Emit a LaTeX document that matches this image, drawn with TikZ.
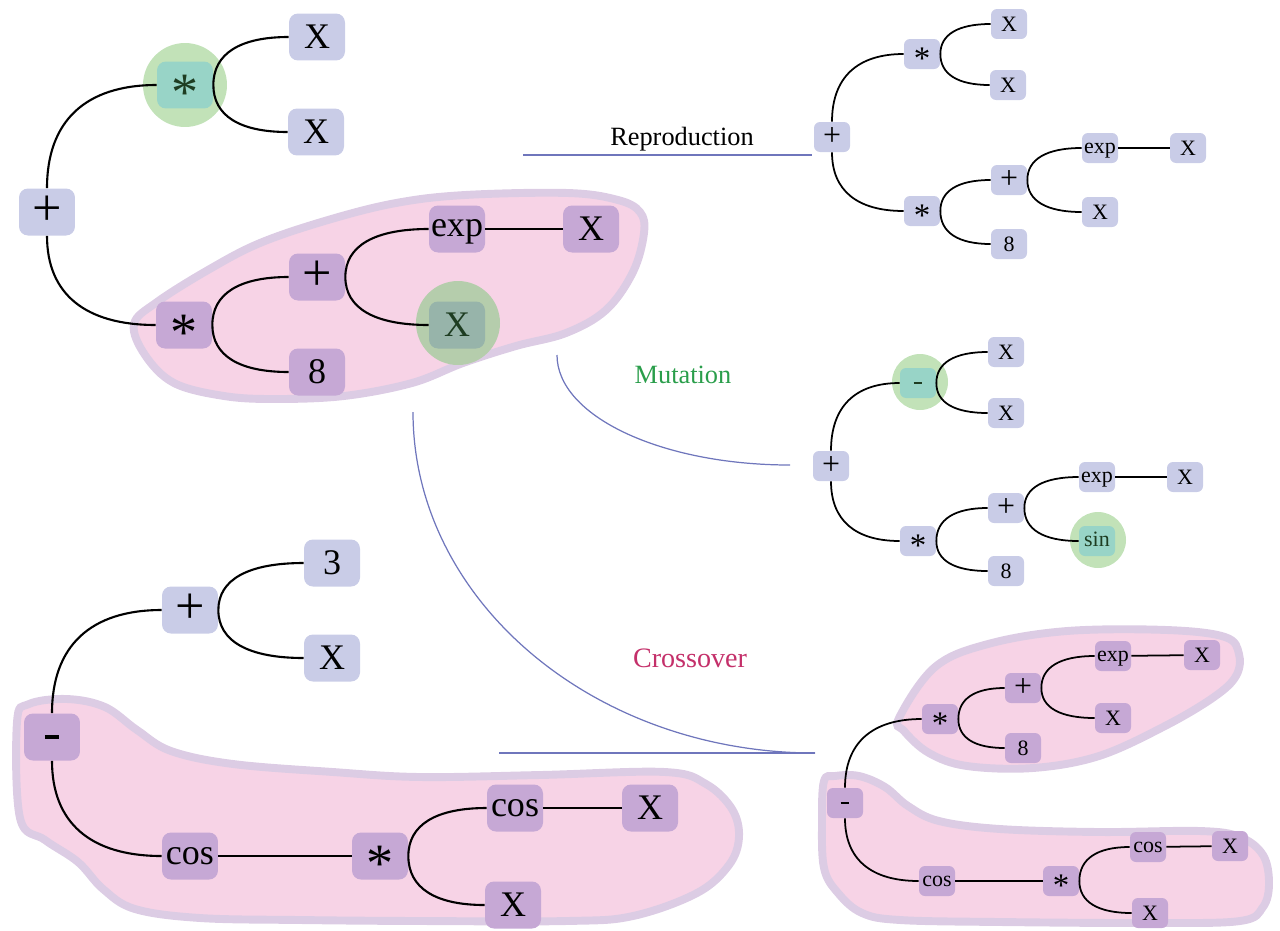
\documentclass[tikz,border=0pt]{standalone}
\usepackage{fontspec}
\usepackage{graphicx}
\setmainfont{Liberation Serif}
\usetikzlibrary{calc,backgrounds}
\definecolor{nlight}{HTML}{C9CCE7}
\definecolor{npurp}{HTML}{C6A8D5}
\definecolor{blobfill}{HTML}{F7D3E6}
\definecolor{blobedge}{HTML}{DCCCE4}
\definecolor{gcirc}{HTML}{C2E2B8}
\definecolor{gnode}{HTML}{98D4C7}
\definecolor{gcircb}{HTML}{B5CDAC}
\definecolor{gnodeb}{HTML}{97B4AA}
\definecolor{gtext}{HTML}{1E3D22}
\definecolor{arcblue}{HTML}{6F76BC}
\definecolor{mutgreen}{HTML}{2A9E4B}
\definecolor{crossred}{HTML}{C4306A}
\newcommand\oPlus{\raisebox{-0.03em}{\scalebox{1.45}{+}}}
\newcommand\oMinus{\raisebox{0.28em}{\rule{0.4em}{0.12em}}}
\newcommand\oStar{\raisebox{-0.37em}{\scalebox{1.5}{*}}}
\newcommand\oWord[1]{\raisebox{0.11em}{#1}}
\newcommand\conn[3][]{\draw[edge,#1] (#2) .. controls ($(#2)!0.65!(#2|-#3)$) and ($(#3)!0.65!(#2|-#3)$) .. (#3);}
\tikzset{
  big/.style={rounded corners=0.18cm, minimum width=1.12cm, minimum height=0.94cm,
    inner sep=0pt, text height=13.6pt, text depth=0pt, font=\fontsize{20.5}{24}\selectfont},
  small/.style={rounded corners=0.12cm, minimum width=0.72cm, minimum height=0.6cm,
    inner sep=0pt, text height=8.5pt, text depth=0pt, font=\fontsize{12.5}{15}\selectfont},
  lt/.style={fill=nlight},
  pu/.style={fill=npurp},
  gn/.style={fill=gnode, text=gtext},
  gnb/.style={fill=gnodeb, text=gtext},
  edge/.style={draw=black, line width=1.2pt},
  sedge/.style={line width=1pt},
  blob/.style={fill=blobfill, draw=blobedge, line width=4.5pt},
  arcline/.style={draw=arcblue, line width=0.7pt},
  lbl/.style={font=\fontsize{15}{18}\selectfont, inner sep=0pt},
}
\begin{document}
\begin{tikzpicture}[x=0.02cm, y=-0.02cm]
\useasboundingbox (0,0) rectangle (1280,930);
% ---------- blobs ----------
\begin{scope}[on background layer]
\filldraw[blob] plot[smooth cycle, tension=0.6] coordinates {
 (134,324) (157,302) (208,270) (260,243) (328,220) (396,203) (465,195) (568,193)
 (618,200) (640,212) (644,233) (633,272) (606,310) (566,333) (516,346) (463,363)
 (412,383) (344,396) (275,399) (224,396) (174,383) (145,355)};
\filldraw[blob] plot[smooth cycle, tension=0.6] coordinates {
 (17,722) (29,704) (67,699) (105,707) (137,730) (171,751) (233,764) (333,772)
 (420,777) (540,775) (665,772) (706,784) (732,809) (739,837) (729,865) (697,893)
 (633,916) (567,921) (420,921) (300,920) (200,918) (135,909) (103,889) (78,862)
 (45,840) (20,818)};
\filldraw[blob] plot[smooth cycle, tension=0.6] coordinates {
 (899,718) (904,731) (929,753) (967,766) (1033,768) (1099,756) (1165,726) (1214,697)
 (1236,676) (1239,654) (1225,637) (1167,630) (1067,631) (988,644) (935,667)};
\filldraw[blob] plot[smooth cycle, tension=0.6] coordinates {
 (822,820) (824,781) (835,776) (859,776) (885,787) (908,806) (939,821) (1000,829)
 (1100,832) (1200,831) (1240,837) (1263,855) (1269,883) (1263,907) (1240,921)
 (1150,923) (1000,922) (900,920) (862,913) (838,893) (824,868)};
\end{scope}

% ---------- top-left tree ----------
\node[big,lt] (a0) at (47,212) {\oPlus};
\node[big,gn] (a1) at (185,85) {\oStar};
\node[big,lt] (a2) at (317,37) {X};
\node[big,lt] (a3) at (316,132) {X};
\node[big,pu] (a4) at (184,325) {\oStar};
\node[big,pu] (a5) at (317,277) {\oPlus};
\node[big,pu] (a6) at (457,229) {\oWord{exp}};
\node[big,pu] (a7) at (591,229) {X};
\node[big,gnb] (a8) at (457,325) {X};
\node[big,pu] (a9) at (317,372) {8};

% ---------- reproduction tree ----------
\node[small,lt] (r0) at (832,137) {\oPlus};
\node[small,lt] (r1) at (922,54) {\oStar};
\node[small,lt] (r2) at (1009,24) {X};
\node[small,lt] (r3) at (1008,85) {X};
\node[small,lt] (r4) at (922,211) {\oStar};
\node[small,lt] (r5) at (1009,180) {\oPlus};
\node[small,lt] (r6) at (1100,148) {\oWord{exp}};
\node[small,lt] (r7) at (1188,148) {X};
\node[small,lt] (r8) at (1100,212) {X};
\node[small,lt] (r9) at (1009,244) {8};

% ---------- mutation tree ----------
\node[small,lt] (m0) at (831,466) {\oPlus};
\node[small,gn] (m1) at (918,383) {\oMinus};
\node[small,lt] (m2) at (1006,352) {X};
\node[small,lt] (m3) at (1006,413) {X};
\node[small,lt] (m4) at (918,541) {\oStar};
\node[small,lt] (m5) at (1006,508) {\oPlus};
\node[small,lt] (m6) at (1097,477) {\oWord{exp}};
\node[small,lt] (m7) at (1185,477) {X};
\node[small,gn] (m8) at (1097,541) {\oWord{sin}};
\node[small,lt] (m9) at (1006,571) {8};

% ---------- bottom-left tree ----------
\node[big,pu] (b0) at (52,737) {\oMinus};
\node[big,lt] (b1) at (190,610) {\oPlus};
\node[big,lt] (b2) at (332,563) {3};
\node[big,lt] (b3) at (332,658) {X};
\node[big,pu] (b4) at (190,856) {\oWord{cos}};
\node[big,pu] (b5) at (380,856) {\oStar};
\node[big,pu] (b6) at (515,808) {\oWord{cos}};
\node[big,pu] (b7) at (650,808) {X};
\node[big,pu] (b8) at (513,905) {X};

% ---------- crossover result ----------
\node[small,pu] (c0) at (845,803) {\oMinus};
\node[small,pu] (c1) at (940,719) {\oStar};
\node[small,pu] (c2) at (1023,688) {\oPlus};
\node[small,pu] (c3) at (1113,656) {\oWord{exp}};
\node[small,pu] (c4) at (1202,655) {X};
\node[small,pu] (c5) at (1113,718) {X};
\node[small,pu] (c6) at (1023,748) {8};
\node[small,pu] (c7) at (937,881) {\oWord{cos}};
\node[small,pu] (c8) at (1061,881) {\oStar};
\node[small,pu] (c9) at (1148,847) {\oWord{cos}};
\node[small,pu] (c10) at (1230,846) {X};
\node[small,pu] (c11) at (1150,913) {X};

% ---------- green highlight circles ----------
\begin{scope}[on background layer]
\fill[gcirc] (a1) circle[radius=0.84cm];
\fill[gcircb] ($(a8)+(1,-2)$) circle[radius=0.84cm];
\fill[gcirc] ($(m1)+(2,-1)$) circle[radius=0.56cm];
\fill[gcirc] ($(m8)+(1,-1)$) circle[radius=0.56cm];
\end{scope}

% ---------- connectors ----------
\conn{a0.north}{a1.west}
\conn{a0.south}{a4.west}
\conn{a1.east}{a2.west}
\conn{a1.east}{a3.west}
\conn{a4.east}{a5.west}
\conn{a4.east}{a9.west}
\conn{a5.east}{a6.west}
\conn{a5.east}{a8.west}
\draw[edge] (a6) -- (a7);

\conn[sedge]{r0.north}{r1.west}
\conn[sedge]{r0.south}{r4.west}
\conn[sedge]{r1.east}{r2.west}
\conn[sedge]{r1.east}{r3.west}
\conn[sedge]{r4.east}{r5.west}
\conn[sedge]{r4.east}{r9.west}
\conn[sedge]{r5.east}{r6.west}
\conn[sedge]{r5.east}{r8.west}
\draw[edge,sedge] (r6) -- (r7);

\conn[sedge]{m0.north}{m1.west}
\conn[sedge]{m0.south}{m4.west}
\conn[sedge]{m1.east}{m2.west}
\conn[sedge]{m1.east}{m3.west}
\conn[sedge]{m4.east}{m5.west}
\conn[sedge]{m4.east}{m9.west}
\conn[sedge]{m5.east}{m6.west}
\conn[sedge]{m5.east}{m8.west}
\draw[edge,sedge] (m6) -- (m7);

\conn{b0.north}{b1.west}
\conn{b1.east}{b2.west}
\conn{b1.east}{b3.west}
\conn{b0.south}{b4.west}
\draw[edge] (b4) -- (b5);
\conn{b5.east}{b6.west}
\conn{b5.east}{b8.west}
\draw[edge] (b6) -- (b7);

\conn[sedge]{c0.north}{c1.west}
\conn[sedge]{c1.east}{c2.west}
\conn[sedge]{c1.east}{c6.west}
\conn[sedge]{c2.east}{c3.west}
\conn[sedge]{c2.east}{c5.west}
\draw[edge,sedge] (c3) -- (c4);
\conn[sedge]{c0.south}{c7.west}
\draw[edge,sedge] (c7) -- (c8);
\conn[sedge]{c8.east}{c9.west}
\conn[sedge]{c8.east}{c11.west}
\draw[edge,sedge] (c9) -- (c10);

% ---------- operator arcs and labels ----------
\coordinate (rp1) at (523,155);
\coordinate (rp2) at (812,155);
\draw[arcline] (rp1) -- (rp2);
\node[lbl] (lrep) at (682,139) {Reproduction};

\coordinate (mu1) at (557,355);
\coordinate (mu2) at (790,465);
\draw[arcline] (mu1) .. controls (557,416) and (661,465) .. (mu2);
\node[lbl, text=mutgreen] (lmut) at (683,375) {Mutation};

\coordinate (cr1) at (413,412);
\coordinate (cr2) at (815,753);
\coordinate (cr3) at (499,753);
\draw[arcline] (cr1) .. controls (413,600) and (593,753) .. (cr2);
\draw[arcline] (cr3) -- (cr2);
\node[lbl, font=\fontsize{16}{19}\selectfont, text=crossred] (lcro) at (690,658) {Crossover};
\end{tikzpicture}
\end{document}
